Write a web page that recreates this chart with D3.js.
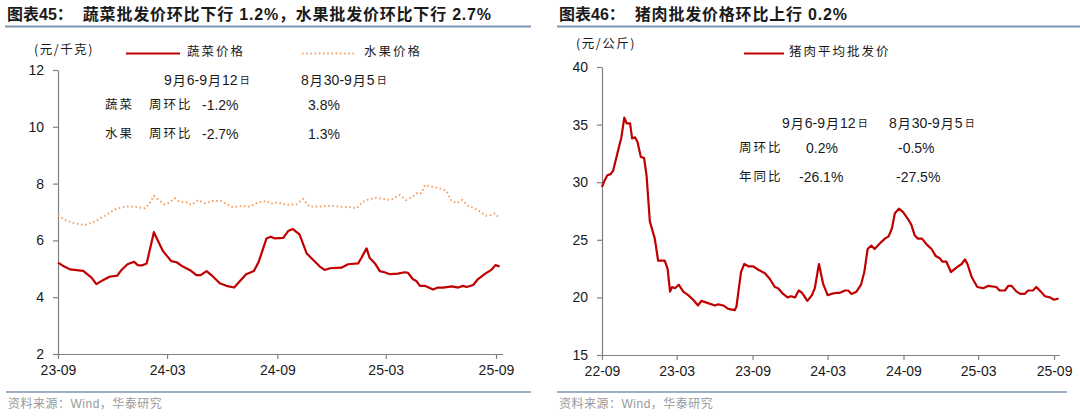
<!DOCTYPE html>
<html><head><meta charset="utf-8">
<script src="https://cdn.jsdelivr.net/npm/d3@7"></script>
<style>
body{margin:0;background:#fff;}
svg{display:block;}
</style></head>
<body>
<svg id="c" width="1080" height="416"></svg>
<script>
// ---------- data ----------
const vegDates = ["2023-09-01","2023-09-09","2023-09-21","2023-10-13","2023-10-27","2023-11-04","2023-11-15","2023-11-26","2023-12-09","2023-12-16","2023-12-26","2024-01-06","2024-01-12","2024-01-19","2024-01-27","2024-02-08","2024-02-23","2024-03-08","2024-03-17","2024-03-25","2024-04-10","2024-04-19","2024-04-26","2024-05-06","2024-05-14","2024-05-28","2024-06-08","2024-06-21","2024-06-30","2024-07-11","2024-07-24","2024-08-01","2024-08-14","2024-08-21","2024-08-28","2024-09-11","2024-09-19","2024-09-27","2024-10-08","2024-10-20","2024-10-31","2024-11-11","2024-11-19","2024-11-28","2024-12-17","2024-12-28","2025-01-14","2025-01-19","2025-01-28","2025-02-02","2025-02-11","2025-02-19","2025-02-27","2025-03-08","2025-03-21","2025-04-02","2025-04-07","2025-04-15","2025-04-21","2025-04-27","2025-05-05","2025-05-19","2025-05-27","2025-06-05","2025-06-19","2025-06-30","2025-07-08","2025-07-14","2025-07-25","2025-08-02","2025-08-13","2025-08-24","2025-08-31","2025-09-07"];
const vegPrices = [5.22,5.11,4.98,4.93,4.69,4.46,4.60,4.72,4.76,4.96,5.16,5.25,5.13,5.12,5.19,6.29,5.63,5.27,5.23,5.11,4.93,4.78,4.78,4.92,4.78,4.49,4.40,4.34,4.55,4.81,4.92,5.25,6.07,6.13,6.07,6.09,6.33,6.40,6.21,5.54,5.31,5.08,4.96,5.02,5.04,5.16,5.19,5.37,5.72,5.39,5.19,4.92,4.88,4.81,4.83,4.88,4.86,4.64,4.57,4.40,4.40,4.27,4.34,4.34,4.38,4.34,4.40,4.36,4.43,4.64,4.81,4.96,5.13,5.08];

const fruitDates = ["2023-09-01","2023-09-12","2023-09-29","2023-10-16","2023-11-01","2023-11-18","2023-12-05","2023-12-21","2024-01-07","2024-01-24","2024-01-31","2024-02-08","2024-02-18","2024-02-26","2024-03-05","2024-03-14","2024-03-22","2024-04-02","2024-04-11","2024-04-22","2024-05-03","2024-05-17","2024-05-31","2024-06-08","2024-06-19","2024-06-30","2024-07-17","2024-07-31","2024-08-14","2024-08-21","2024-09-02","2024-09-16","2024-10-03","2024-10-14","2024-10-25","2024-11-11","2024-11-28","2024-12-14","2024-12-31","2025-01-11","2025-01-22","2025-02-02","2025-02-13","2025-02-24","2025-03-08","2025-03-16","2025-03-24","2025-04-04","2025-04-15","2025-04-24","2025-04-29","2025-05-06","2025-05-16","2025-05-30","2025-06-10","2025-06-18","2025-06-27","2025-07-07","2025-07-16","2025-07-27","2025-08-07","2025-08-15","2025-08-24","2025-08-30","2025-09-07"];
const fruitPrices = [6.89,6.72,6.60,6.54,6.66,6.87,7.09,7.19,7.19,7.13,7.27,7.57,7.39,7.27,7.33,7.48,7.36,7.34,7.25,7.42,7.31,7.39,7.39,7.27,7.17,7.21,7.19,7.34,7.39,7.29,7.34,7.25,7.27,7.46,7.19,7.19,7.22,7.19,7.17,7.13,7.36,7.46,7.50,7.46,7.42,7.50,7.60,7.42,7.54,7.69,7.66,7.95,7.89,7.83,7.75,7.42,7.31,7.42,7.22,7.13,6.99,6.87,6.89,6.95,6.78];

const porkDates = ["2022-09-01","2022-09-08","2022-09-14","2022-09-22","2022-09-28","2022-10-09","2022-10-18","2022-10-25","2022-10-31","2022-11-08","2022-11-13","2022-11-20","2022-11-26","2022-12-04","2022-12-12","2022-12-18","2022-12-26","2023-01-07","2023-01-15","2023-01-31","2023-02-07","2023-02-13","2023-02-18","2023-02-25","2023-03-06","2023-03-17","2023-03-29","2023-04-10","2023-04-22","2023-04-30","2023-05-16","2023-06-02","2023-06-10","2023-06-22","2023-07-04","2023-07-20","2023-07-24","2023-08-04","2023-08-12","2023-08-22","2023-09-02","2023-09-15","2023-10-01","2023-10-13","2023-10-25","2023-11-02","2023-11-14","2023-11-25","2023-12-03","2023-12-13","2023-12-22","2023-12-30","2024-01-12","2024-01-23","2024-01-30","2024-02-09","2024-02-19","2024-03-01","2024-03-10","2024-03-23","2024-03-31","2024-04-12","2024-04-20","2024-04-28","2024-05-10","2024-05-21","2024-05-29","2024-06-06","2024-06-15","2024-06-23","2024-07-06","2024-07-18","2024-07-27","2024-08-04","2024-08-11","2024-08-21","2024-08-31","2024-09-12","2024-09-20","2024-09-28","2024-10-06","2024-10-16","2024-10-27","2024-11-08","2024-11-18","2024-11-28","2024-12-04","2024-12-14","2024-12-25","2025-01-08","2025-01-20","2025-01-28","2025-02-03","2025-02-13","2025-02-19","2025-02-27","2025-03-13","2025-03-25","2025-04-14","2025-04-22","2025-05-05","2025-05-13","2025-05-21","2025-06-02","2025-06-12","2025-06-22","2025-06-30","2025-07-12","2025-07-20","2025-07-31","2025-08-10","2025-08-22","2025-09-01","2025-09-12"];
const porkPrices = [29.6,30.2,30.6,30.7,31.0,32.6,33.9,35.6,35.1,35.1,33.8,33.9,33.5,32.2,32.1,30.6,26.6,25.1,23.2,23.2,22.5,20.5,20.9,20.8,21.1,20.5,20.2,19.8,19.3,19.7,19.5,19.3,19.4,19.3,19.0,18.9,19.2,22.2,22.9,22.7,22.7,22.4,22.1,21.6,20.9,20.8,20.3,20.0,20.1,20.0,20.6,20.4,19.7,20.2,20.8,22.9,21.2,20.2,20.3,20.4,20.4,20.6,20.6,20.3,20.5,21.1,22.2,24.2,24.5,24.2,24.7,25.1,25.3,26.0,27.3,27.7,27.4,26.8,26.3,25.4,25.1,25.1,24.6,24.2,23.6,23.4,23.1,23.1,22.2,22.6,22.9,23.3,22.9,21.8,21.4,20.9,20.8,21.0,20.9,20.6,20.6,21.0,21.0,20.5,20.3,20.3,20.6,20.6,20.9,20.5,20.1,20.0,19.8,19.9];

const leftXTicks = ["2023-09-01","2024-03-01","2024-09-01","2025-03-01","2025-09-01"];
const rightXTicks = ["2022-09-01","2023-03-01","2023-09-01","2024-03-01","2024-09-01","2025-03-01","2025-09-01"];
const leftYTicks = [2,4,6,8,10,12];
const rightYTicks = [15,20,25,30,35,40];

// ---------- drawing ----------
const parse = d3.timeParse("%Y-%m-%d");
const fmt = d3.timeFormat("%y-%m");
const svg = d3.select("#c");
svg.append("rect").attr("width",1080).attr("height",416).attr("fill","#fff");

const CJK = "'Noto Sans CJK SC', sans-serif";
const LAT = "'Liberation Sans', Arial, 'Noto Sans CJK SC', sans-serif";
const RED = "#c00000";
const ORANGE = "#f4a36a";
const RULE = "#7f95b2";

function titleBlock(x, x2, num, rest){
  const t = svg.append("text").attr("x",x).attr("y",20)
    .attr("font-family",LAT).attr("font-size",16).attr("font-weight","bold").attr("fill","#1a1a1a");
  t.append("tspan").text("图表"+num+"：");
  t.append("tspan").attr("dx",10).attr("letter-spacing",0.8).text(rest);
  svg.append("line").attr("x1",x-2).attr("x2",x2).attr("y1",26.5).attr("y2",26.5)
    .attr("stroke",RULE).attr("stroke-width",2);
}
function sourceBlock(x, x2){
  svg.append("line").attr("x1",x-2).attr("x2",x2).attr("y1",392).attr("y2",392)
    .attr("stroke",RULE).attr("stroke-width",1.5);
  svg.append("text").attr("x",x).attr("y",408).attr("font-family",LAT).attr("font-size",12)
    .attr("fill","#9a9a9a").attr("letter-spacing",0.5).text("资料来源：Wind，华泰研究");
}
function styleAxis(g){
  g.selectAll(".domain").attr("stroke","#808080").attr("stroke-width",1.2);
  g.selectAll(".tick line").attr("stroke","#808080").attr("stroke-width",1.2);
  g.selectAll(".tick text").attr("font-family",LAT).attr("font-size",14).attr("fill","#1a1a1a");
}
function label(x,y,txt,size,anchor){
  return svg.append("text").attr("x",x).attr("y",y).attr("font-family",LAT)
    .attr("font-size",size||13).attr("fill","#1a1a1a").attr("text-anchor",anchor||"start")
    .attr("dominant-baseline","middle").text(txt);
}
function dateLabel(x,y,a,b,c,d){
  // e.g. 9月6-9月12日
  const t = svg.append("text").attr("x",x).attr("y",y).attr("font-family",LAT)
    .attr("font-size",14).attr("fill","#1a1a1a").attr("dominant-baseline","middle");
  t.append("tspan").text(a);
  t.append("tspan").attr("font-family",CJK).attr("font-size",13).attr("dx",1).text("月");
  t.append("tspan").attr("dx",1).text(b+"-"+c);
  t.append("tspan").attr("font-family",CJK).attr("font-size",13).attr("dx",1).text("月");
  t.append("tspan").attr("dx",1).text(d);
  t.append("tspan").attr("font-family",CJK).attr("font-size",10).attr("dx",2).text("日");
}
function cjk(x,y,txt,size){
  return svg.append("text").attr("x",x).attr("y",y).attr("font-family",CJK)
    .attr("font-size",size||12.5).attr("fill","#1a1a1a").attr("letter-spacing",2)
    .attr("dominant-baseline","middle").text(txt);
}

// ===== LEFT =====
titleBlock(7, 531, "45", "蔬菜批发价环比下行 1.2%，水果批发价环比下行 2.7%");
sourceBlock(8, 531);

const xL = d3.scaleTime().domain([parse("2023-09-01"), parse("2025-09-12")]).range([58, 502.6]);
const yL = d3.scaleLinear().domain([2,12]).range([354,70]);

const gxL = svg.append("g").attr("transform","translate(0,354)")
  .call(d3.axisBottom(xL).tickValues(leftXTicks.map(parse)).tickFormat(fmt).tickSize(5).tickSizeOuter(0).tickPadding(6));
styleAxis(gxL);
const gyL = svg.append("g").attr("transform","translate(58,0)")
  .call(d3.axisLeft(yL).tickValues(leftYTicks).tickSize(5).tickSizeOuter(0).tickPadding(9));
styleAxis(gyL);

const vegData = vegDates.map((d,i)=>({x:parse(d), y:vegPrices[i]}));
const fruitData = fruitDates.map((d,i)=>({x:parse(d), y:fruitPrices[i]}));
const lineL = d3.line().x(d=>xL(d.x)).y(d=>yL(d.y));
svg.append("path").datum(fruitData).attr("d",lineL).attr("fill","none")
  .attr("stroke",ORANGE).attr("stroke-width",2).attr("stroke-dasharray","1.6,2.6");
svg.append("path").datum(vegData).attr("d",lineL).attr("fill","none")
  .attr("stroke",RED).attr("stroke-width",2.2).attr("stroke-linejoin","round");

// unit + legend
cjk(34, 51, "(元/千克)", 12.5).attr("letter-spacing",1.5);
svg.append("line").attr("x1",126).attr("x2",180).attr("y1",53.5).attr("y2",53.5).attr("stroke",RED).attr("stroke-width",2.2);
cjk(187, 53, "蔬菜价格", 12.5);
svg.append("line").attr("x1",302).attr("x2",356).attr("y1",53.5).attr("y2",53.5).attr("stroke",ORANGE).attr("stroke-width",2).attr("stroke-dasharray","1.6,2.6");
cjk(364, 53, "水果价格", 12.5);

// annotation table
dateLabel(164, 81, "9", "6", "9", "12");
dateLabel(301, 81, "8", "30", "9", "5");
cjk(105, 106, "蔬菜", 12.5);
cjk(149, 106, "周环比", 12.5);
label(202, 106, "-1.2%", 14);
label(308, 106, "3.8%", 14);
cjk(105, 135, "水果", 12.5);
cjk(149, 135, "周环比", 12.5);
label(202, 135, "-2.7%", 14);
label(308, 135, "1.3%", 14);

// ===== RIGHT =====
titleBlock(559, 1080, "46", "猪肉批发价格环比上行 0.2%");
sourceBlock(559, 1067);

const xR = d3.scaleTime().domain([parse("2022-09-01"), parse("2025-09-14")]).range([602, 1059.4]);
const yR = d3.scaleLinear().domain([15,40]).range([355,67]);

const gxR = svg.append("g").attr("transform","translate(0,355)")
  .call(d3.axisBottom(xR).tickValues(rightXTicks.map(parse)).tickFormat(fmt).tickSize(5).tickSizeOuter(0).tickPadding(6));
styleAxis(gxR);
const gyR = svg.append("g").attr("transform","translate(602,0)")
  .call(d3.axisLeft(yR).tickValues(rightYTicks).tickSize(5).tickSizeOuter(0).tickPadding(9));
styleAxis(gyR);

const porkData = porkDates.map((d,i)=>({x:parse(d), y:porkPrices[i]}));
const lineR = d3.line().x(d=>xR(d.x)).y(d=>yR(d.y));
svg.append("path").datum(porkData).attr("d",lineR).attr("fill","none")
  .attr("stroke",RED).attr("stroke-width",2.2).attr("stroke-linejoin","round");

cjk(576, 45, "(元/公斤)", 12.5).attr("letter-spacing",1.5);
svg.append("line").attr("x1",744).attr("x2",784).attr("y1",53.5).attr("y2",53.5).attr("stroke",RED).attr("stroke-width",2.2);
cjk(789, 53, "猪肉平均批发价", 12.5);

dateLabel(782, 124, "9", "6", "9", "12");
dateLabel(889, 124, "8", "30", "9", "5");
cjk(739, 149, "周环比", 12.5);
label(806, 149, "0.2%", 14);
label(898, 149, "-0.5%", 14);
cjk(739, 178, "年同比", 12.5);
label(799, 178, "-26.1%", 14);
label(896, 178, "-27.5%", 14);
</script>
</body></html>
